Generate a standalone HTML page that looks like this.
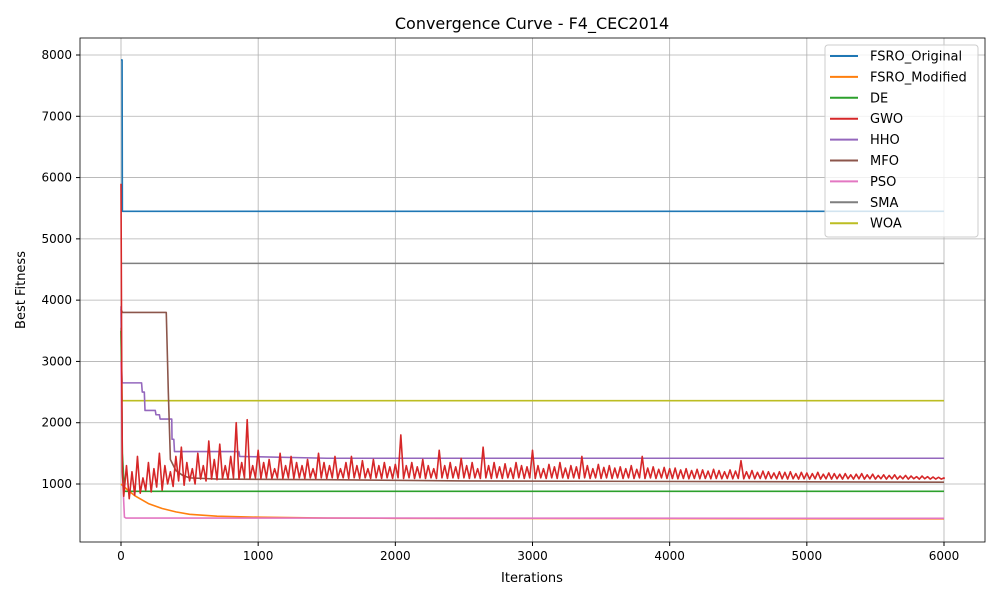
<!DOCTYPE html>
<html><head><meta charset="utf-8"><style>
body{margin:0;background:#fff;font-family:"Liberation Sans","DejaVu Sans",sans-serif}
svg text{font-family:"DejaVu Sans","Liberation Sans",sans-serif}
</style></head><body>
<svg id="chart" width="1000" height="600" xmlns="http://www.w3.org/2000/svg">
<rect width="1000" height="600" fill="#fff"/>
<g id="grid"></g>
<g id="series"></g>
<rect x="80" y="38" width="905" height="504" fill="none" stroke="#000" stroke-width="0.8"/>
<g id="axes" font-size="12"></g>
<text x="532" y="29" font-size="16" text-anchor="middle">Convergence Curve - F4_CEC2014</text>
<text x="532" y="582" font-size="13" text-anchor="middle">Iterations</text>
<text x="25" y="290" font-size="13" text-anchor="middle" transform="rotate(-90 25 290)">Best Fitness</text>
<g id="legend"></g>
</svg>
<script>
const xTicks=[0,1000,2000,3000,4000,5000,6000];
const yTicks=[1000,2000,3000,4000,5000,6000,7000,8000];
const seriesNames=["FSRO_Original","FSRO_Modified","DE","GWO","HHO","MFO","PSO","SMA","WOA"];
const seriesColors=["#1f77b4","#ff7f0e","#2ca02c","#d62728","#9467bd","#8c564b","#e377c2","#7f7f7f","#bcbd22"];
const fsroOriginal=[[0,7920],[8,7920],[10,5450],[6000,5450]];
const fsroModified=[[0,1000],[50,900],[100,810],[200,680],[300,600],[400,545],[500,505],[700,475],[1000,458],[1500,445],[2000,440],[4000,435],[6000,432]];
const de=[[0,3500],[10,1500],[25,880],[6000,880]];
const gwoIters=[0,5,10];
const gwoHead=[5900,3000,1200];
const gwoStep=20;
const gwoNoise=[
800,1300,760,1200,820,1450,850,1100,900,1350,870,1250,950,1500,900,1300,1000,1200,960,1450,
1050,1600,980,1350,1050,1250,1000,1500,1080,1300,1050,1700,1080,1400,1070,1650,1090,1300,1080,1450,
1100,2000,1080,1350,1100,2050,1090,1300,1100,1550,1090,1350,1100,1400,1090,1250,1100,1500,1090,1300,
1100,1450,1090,1350,1100,1300,1090,1400,1100,1250,1090,1500,1100,1350,1090,1300,1100,1450,1090,1250,
1100,1350,1090,1450,1100,1300,1090,1380,1100,1250,1090,1400,1100,1300,1090,1350,1100,1280,1090,1320,
1100,1800,1090,1300,1100,1350,1090,1280,1100,1400,1090,1300,1100,1250,1090,1550,1100,1300,1090,1350,
1100,1280,1090,1420,1100,1300,1090,1350,1100,1250,1090,1600,1100,1300,1090,1350,1100,1280,1090,1330,
1100,1260,1090,1350,1100,1300,1090,1280,1100,1550,1090,1300,1100,1250,1090,1320,1100,1280,1090,1350,
1100,1260,1090,1300,1100,1280,1090,1450,1100,1300,1090,1250,1100,1320,1090,1270,1100,1300,1090,1260,
1100,1280,1090,1250,1100,1300,1090,1240,1100,1450,1090,1260,1100,1280,1090,1240,1100,1270,1090,1250,
1090,1260,1085,1230,1090,1250,1085,1220,1090,1240,1085,1230,1090,1210,1085,1240,1090,1220,1085,1200,
1090,1230,1085,1210,1090,1380,1085,1200,1090,1220,1085,1190,1090,1210,1085,1200,1090,1180,1085,1200,
1085,1190,1080,1200,1085,1170,1080,1190,1085,1180,1080,1170,1085,1190,1080,1160,1085,1180,1080,1170,
1085,1160,1080,1170,1085,1150,1080,1160,1085,1170,1080,1150,1085,1160,1080,1140,1085,1150,1080,1140,
1085,1150,1080,1130,1085,1140,1080,1130,1085,1120,1080,1130,1085,1120,1080,1115,1080,1110,1080,1100];
const hho=[[0,3900],[3,3000],[8,2650],[150,2650],[155,2500],[170,2500],[175,2200],[250,2200],[255,2130],[280,2130],[285,2060],[370,2060],[372,1730],[385,1730],[390,1530],[860,1530],[865,1450],[1500,1420],[6000,1420]];
const mfo=[[0,3850],[10,3800],[330,3800],[345,2500],[360,1400],[400,1220],[450,1140],[500,1100],[700,1080],[1500,1070],[2500,1050],[6000,1030]];
const pso=[[0,3000],[10,1200],[25,460],[35,445],[6000,440]];
const sma=[[0,4600],[6000,4600]];
const woa=[[0,3550],[8,2360],[6000,2360]];

const X=v=>121+(v-0)*823/6000;
const Y=v=>484-(v-1000)*429/7000;
const NS="http://www.w3.org/2000/svg";
function mk(tag,attrs,parent){const e=document.createElementNS(NS,tag);for(const k in attrs)e.setAttribute(k,attrs[k]);parent.appendChild(e);return e;}
const grid=document.getElementById('grid'),axes=document.getElementById('axes'),ser=document.getElementById('series'),leg=document.getElementById('legend');
xTicks.forEach(t=>{
 const g=mk('line',{x1:X(t),x2:X(t),y1:38,y2:542,stroke:'#b0b0b0','stroke-width':0.8},grid);
 
 mk('line',{x1:X(t),x2:X(t),y1:542,y2:546,stroke:'#000'},axes);
 const tx=mk('text',{x:X(t),y:560,'text-anchor':'middle'},axes);tx.textContent=t;
 
});
yTicks.forEach(t=>{
 const g=mk('line',{x1:80,x2:985,y1:Y(t),y2:Y(t),stroke:'#b0b0b0','stroke-width':0.8},grid);
 
 mk('line',{x1:76,x2:80,y1:Y(t),y2:Y(t),stroke:'#000'},axes);
 const tx=mk('text',{x:72,y:Y(t)+4,'text-anchor':'end'},axes);tx.textContent=t;
 
});
const gwo=gwoIters.map((it,i)=>[it,gwoHead[i]]);
gwoNoise.forEach((v,i)=>gwo.push([20+i*gwoStep,v]));
gwo.push([6000,1080]);
const all=[fsroOriginal,fsroModified,de,gwo,hho,mfo,pso,sma,woa];
const order=[7,8,0,4,5,2,1,6,3];
order.forEach(i=>{
 const p=mk('polyline',{points:all[i].map(d=>X(d[0])+','+Y(d[1])).join(' '),fill:'none',stroke:seriesColors[i],'stroke-width':1.6,'stroke-linejoin':'round'},ser);
 
 
});
const box=mk('rect',{x:825,y:45,width:153,height:192,rx:3,fill:'#fff','fill-opacity':0.8,stroke:'#ccc'},leg);

seriesNames.forEach((n,i)=>{
 const y=56+i*20.9;
 const l=mk('line',{x1:830,x2:858,y1:y,y2:y,stroke:seriesColors[i],'stroke-width':2},leg);
 
 const t=mk('text',{x:870,y:y+4.5,'font-size':13},leg);t.textContent=n;
 
});
</script>
</body></html>
